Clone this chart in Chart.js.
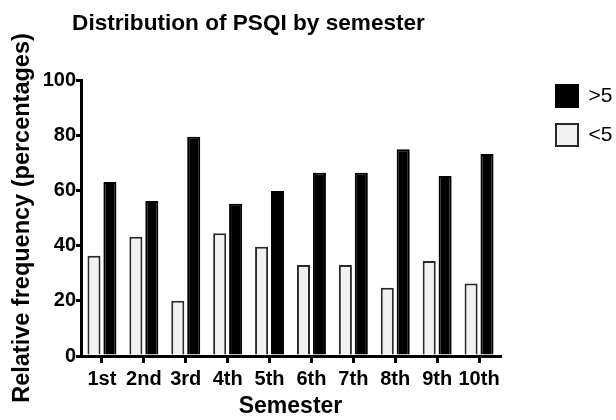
<!DOCTYPE html>
<html>
<head>
<meta charset="utf-8">
<script src="https://cdn.jsdelivr.net/npm/chart.js@4/dist/chart.umd.min.js"></script>
<style>
  html, body { margin: 0; padding: 0; background: #fff; }
  #wrap { width: 616px; height: 420px; }
</style>
</head>
<body>
<div id="wrap"><canvas id="c" width="616" height="420"></canvas></div>
<script>
const chartTitle = "Distribution of PSQI by semester";
const xTitle = "Semester";
const yTitle = "Relative frequency (percentages)";
const semesters = ["1st", "2nd", "3rd", "4th", "5th", "6th", "7th", "8th", "9th", "10th"];
const below5 = [36.3, 43.2, 20.0, 44.5, 39.6, 33.0, 33.0, 24.7, 34.4, 26.3];
const above5 = [63.0, 56.2, 79.4, 55.2, 59.8, 66.4, 66.4, 74.9, 65.2, 73.2];
const yTicks = [0, 20, 40, 60, 80, 100];

Chart.defaults.font.family = "'Liberation Sans', Arial, sans-serif";
Chart.defaults.color = "#000";

const titlePlugin = {
  id: 'freeTitle',
  afterDraw(chart) {
    const ctx = chart.ctx;
    ctx.save();
    ctx.font = "bold 22.6px 'Liberation Sans', Arial, sans-serif";
    ctx.fillStyle = "#000";
    ctx.textAlign = "center";
    ctx.textBaseline = "middle";
    ctx.fillText(chartTitle, 248.5, 24);
    ctx.restore();
  }
};

new Chart(document.getElementById('c'), {
  type: 'bar',
  data: {
    labels: semesters,
    datasets: [
      { label: "<5", data: below5, backgroundColor: "#f1f1f1", borderColor: "#2a2a2a", borderWidth: 2,
        barPercentage: 0.82, categoryPercentage: 0.76 },
      { label: ">5", data: above5, backgroundColor: "#000", borderColor: "#000", borderWidth: 2,
        barPercentage: 0.82, categoryPercentage: 0.76 }
    ]
  },
  options: {
    responsive: false,
    animation: false,
    devicePixelRatio: 1,
    layout: { padding: { top: 68, bottom: 0, left: 0, right: 0 } },
    plugins: {
      title: { display: false },
      subtitle: { display: true, text: ' ', fullSize: false, font: { size: 10, lineHeight: 1.2 },
                  padding: 0 },
      tooltip: { enabled: false },
      legend: {
        position: 'right',
        align: 'start',
        reverse: true,
        maxWidth: 77,
        labels: { boxWidth: 22, boxHeight: 22, padding: 17, color: '#000',
                  font: { size: 21 } }
      }
    },
    scales: {
      x: {
        grid: { offset: false, drawOnChartArea: false, drawTicks: true, tickLength: 7,
                tickColor: '#000', tickWidth: 3, lineWidth: 3, color: '#000' },
        border: { display: true, color: '#000', width: 3 },
        ticks: { padding: 4, font: { size: 20, weight: 'bold' }, color: '#000', maxRotation: 0, autoSkip: false },
        title: { display: true, text: xTitle, font: { size: 23, weight: 'bold', lineHeight: 1.0 }, color: '#000',
                 padding: { top: 0, bottom: 2 } }
      },
      y: {
        min: 0, max: 100,
        afterBuildTicks: (s) => { s.ticks = yTicks.map(v => ({ value: v })); },
        afterFit: (s) => { s.width = 81; },
        grid: { drawOnChartArea: false, drawTicks: true, tickLength: 5, tickColor: '#000',
                tickWidth: 3, lineWidth: 3, color: '#000' },
        border: { display: true, color: '#000', width: 3 },
        ticks: { padding: 0, font: { size: 20, weight: 'bold' }, color: '#000' },
        title: { display: true, text: yTitle, font: { size: 23.5, weight: 'bold' }, color: '#000',
                 padding: { top: 8, bottom: 0 } }
      },
      r: {
        type: 'linear', position: 'right', display: true,
        grid: { display: false }, border: { display: false }, ticks: { display: false },
        afterFit: (s) => { s.width = 39; }
      }
    }
  },
  plugins: [titlePlugin]
});
</script>
</body>
</html>
